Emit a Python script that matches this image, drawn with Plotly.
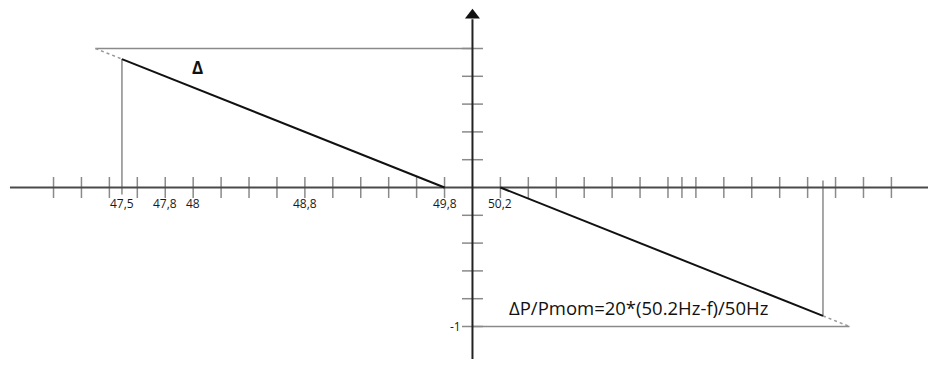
import plotly.graph_objects as go

# schematic units: one tick step on each axis
x_ticks = [-15, -14, -13, -12, -11, -10, -9, -8, -7, -6, -5, -4, -3, -2, -1,
           1, 2, 3, 4, 5, 6, 7, 7.5, 8, 9, 10, 11, 12, 13, 14, 15, 16.55]
y_ticks = [-5, -4, -3, -2, -1, 1, 2, 3, 4, 5]

freq_pos = [-12.55, -11, -10, -6, -1, 1]
freq_labels = ["47,5", "47,8", "48", "48,8", "49,8", "50,2"]

# droop line, left branch (under-frequency) and right branch (over-frequency)
left_x = [-12.55, -1]
left_y = [4.62, 0]
left_dash_x = [-13.5, -12.55]
left_dash_y = [5, 4.62]
right_x = [1, 12.55]
right_y = [0, -4.62]
right_dash_x = [12.55, 13.5]
right_dash_y = [-4.62, -5]

top_ref_x = [-13.5, 0]
top_ref_y = [5, 5]
bot_ref_x = [0, 13.5]
bot_ref_y = [-5, -5]

x_axis_x = [-16.56, 16.6]
y_axis_y = [-6.8, 6.05]
arrow_y = 6.2

gray = "#8a8a8a"

fig = go.Figure()

# reference lines
fig.add_trace(go.Scatter(x=top_ref_x, y=top_ref_y, mode="lines",
                         line=dict(color=gray, width=1.5)))
fig.add_trace(go.Scatter(x=bot_ref_x, y=bot_ref_y, mode="lines",
                         line=dict(color=gray, width=1.5)))
fig.add_trace(go.Scatter(x=[left_x[0], left_x[0]], y=[-0.25, left_y[0]], mode="lines",
                         line=dict(color=gray, width=1.5)))
fig.add_trace(go.Scatter(x=[right_x[1], right_x[1]], y=[0.25, right_y[1]], mode="lines",
                         line=dict(color=gray, width=1.5)))

# ticks
fig.add_trace(go.Scatter(x=x_ticks, y=[0] * len(x_ticks), mode="markers",
                         marker=dict(symbol="line-ns", size=15,
                                     line=dict(color=gray, width=1.5))))
fig.add_trace(go.Scatter(x=[0] * len(y_ticks), y=y_ticks, mode="markers",
                         marker=dict(symbol="line-ew", size=15,
                                     line=dict(color=gray, width=1.5))))

# axes
fig.add_trace(go.Scatter(x=x_axis_x, y=[0, 0], mode="lines",
                         line=dict(color="#4a4a4a", width=2.2)))
fig.add_trace(go.Scatter(x=[0, 0], y=y_axis_y, mode="lines",
                         line=dict(color="#222222", width=2)))
fig.add_trace(go.Scatter(x=[0], y=[arrow_y], mode="markers", cliponaxis=False,
                         marker=dict(symbol="triangle-up", size=13, color="#111111")))

# droop characteristic
fig.add_trace(go.Scatter(x=left_dash_x, y=left_dash_y, mode="lines",
                         line=dict(color="#999999", width=1.5, dash="3px,3px")))
fig.add_trace(go.Scatter(x=right_dash_x, y=right_dash_y, mode="lines",
                         line=dict(color="#999999", width=1.5, dash="3px,3px")))
fig.add_trace(go.Scatter(x=left_x, y=left_y, mode="lines",
                         line=dict(color="#111111", width=2)))
fig.add_trace(go.Scatter(x=right_x, y=right_y, mode="lines",
                         line=dict(color="#111111", width=2)))

for xp, lab in zip(freq_pos, freq_labels):
    fig.add_annotation(x=xp, y=-0.56, text=lab, showarrow=False,
                       font=dict(family="Open Sans", size=12, color="#1a1a1a"))

fig.add_annotation(x=-0.62, y=-5, text="-1", showarrow=False,
                   font=dict(family="Open Sans", size=12, color="#1a1a1a"))
fig.add_annotation(x=-9.83, y=4.33, text="<b>Δ</b>", showarrow=False,
                   font=dict(family="Open Sans", size=17, color="#111111"))
fig.add_annotation(x=1.24, y=-4.3, text="ΔP/Pmom=20*(50.2Hz-f)/50Hz", showarrow=False,
                   xanchor="left",
                   font=dict(family="Open Sans", size=18.5, color="#111111"))

# the page body has an 8px margin; keep the figure inside the window
# (no scrollbars) and shift the ranges by those 8px
fig.update_layout(
    width=920, height=351,
    margin=dict(l=0, r=0, t=0, b=0),
    showlegend=False,
    plot_bgcolor="white", paper_bgcolor="white",
    xaxis=dict(visible=False, range=[-16.63, 16.31], fixedrange=True),
    yaxis=dict(visible=False, range=[-6.169, 6.457], fixedrange=True),
)

fig.write_html("out.html")
